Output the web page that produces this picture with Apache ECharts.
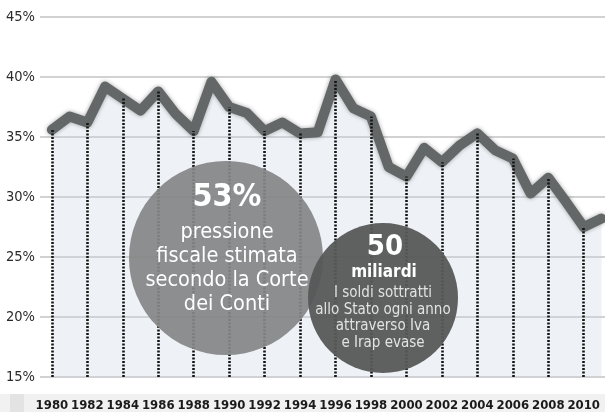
<!DOCTYPE html>
<html>
<head>
<meta charset="utf-8">
<script src="https://cdn.jsdelivr.net/npm/echarts@6/dist/echarts.min.js"></script>
<style>
html,body{margin:0;padding:0;background:#fff;}
#c{width:605px;height:412px;}
</style>
</head>
<body>
<div id="c"></div>
<script>
const years = [1980,1981,1982,1983,1984,1985,1986,1987,1988,1989,1990,1991,1992,1993,1994,1995,1996,1997,1998,1999,2000,2001,2002,2003,2004,2005,2006,2007,2008,2009,2010,2011];
const pressione = [35.6,36.7,36.2,39.2,38.2,37.2,38.8,36.9,35.5,39.6,37.5,37.0,35.5,36.2,35.3,35.4,39.8,37.4,36.7,32.5,31.7,34.1,32.9,34.3,35.3,33.9,33.2,30.3,31.6,29.6,27.5,28.2];
const yearLabels = [1980,1982,1984,1986,1988,1990,1992,1994,1996,1998,2000,2002,2004,2006,2008,2010];
const yTicks = [15,20,25,30,35,40,45];

const COND = '"DejaVu Sans Condensed","Liberation Sans Narrow","Open Sans",sans-serif';

const seriesData = years.map((y,i)=>[y, pressione[i]]);
const dotted = yearLabels.map(y=>{
  const v = pressione[years.indexOf(y)];
  return [{coord:[y, yTicks[0]]},{coord:[y, v]}];
});

const chart = echarts.init(document.getElementById('c'), null, {renderer:'canvas'});
chart.setOption({
  animation:false,
  backgroundColor:'#fff',
  grid:{left:40, right:0, top:17, bottom:35},
  xAxis:{
    type:'value', min:1979.33, max:2011.2,
    axisLine:{show:false}, axisTick:{show:false}, splitLine:{show:false},
    axisLabel:{
      customValues: yearLabels,
      formatter: v=>String(v),
      color:'#1a1a1a', fontSize:13, fontWeight:'bold', fontFamily:COND,
      margin:22
    }
  },
  yAxis:{
    type:'value', min:15, max:45, interval:5,
    axisLine:{show:false}, axisTick:{show:false},
    splitLine:{lineStyle:{color:'#d2d2d2', width:2}},
    axisLabel:{formatter:'{value}%', color:'#2a2a2a', fontSize:14.5, fontFamily:COND, margin:5}
  },
  series:[
    {type:'line', data:seriesData, symbol:'none', z:1,
     lineStyle:{width:0}, areaStyle:{color:'rgba(200,212,224,0.45)', origin:'start'}},
    {type:'line', data:[], symbol:'none', z:2,
     markLine:{symbol:'none', silent:true, label:{show:false},
       lineStyle:{color:'#151515', width:2.6, type:[2,1.5]},
       data:dotted}},
    {type:'line', data:seriesData, symbol:'none', z:3,
     lineStyle:{width:10, color:'#636767', join:'round', cap:'round',
       shadowColor:'rgba(0,0,0,0.35)', shadowBlur:4}}
  ],
  graphic:[
    {type:'rect', z:-1, shape:{x:0,y:394,width:605,height:18}, style:{fill:'#f1f1f1'}},
    {type:'rect', z:-1, shape:{x:10,y:394,width:14,height:18}, style:{fill:'#e3e3e3'}},
    {type:'circle', z:100, shape:{cx:226, cy:258, r:97}, style:{fill:'rgba(132,134,134,0.93)'}},
    {type:'circle', z:101, shape:{cx:383, cy:298, r:75}, style:{fill:'rgba(86,88,88,0.95)'}},
    {type:'text', z:110, x:227, y:198, style:{text:'53%', fill:'#fff', font:'bold 32px '+COND, textAlign:'center', textVerticalAlign:'middle'}},
    {type:'text', z:110, x:227, y:232, style:{text:'pressione', fill:'#fff', font:'21.5px '+COND, textAlign:'center', textVerticalAlign:'middle'}},
    {type:'text', z:110, x:227, y:256, style:{text:'fiscale stimata', fill:'#fff', font:'21.5px '+COND, textAlign:'center', textVerticalAlign:'middle'}},
    {type:'text', z:110, x:227, y:280, style:{text:'secondo la Corte', fill:'#fff', font:'21.5px '+COND, textAlign:'center', textVerticalAlign:'middle'}},
    {type:'text', z:110, x:227, y:304, style:{text:'dei Conti', fill:'#fff', font:'21.5px '+COND, textAlign:'center', textVerticalAlign:'middle'}},
    {type:'text', z:111, x:385, y:247, style:{text:'50', fill:'#fff', font:'bold 29px '+COND, textAlign:'center', textVerticalAlign:'middle'}},
    {type:'text', z:111, x:384, y:273, style:{text:'miliardi', fill:'#fff', font:'bold 17px '+COND, textAlign:'center', textVerticalAlign:'middle'}},
    {type:'text', z:111, x:383, y:293, style:{text:'I soldi sottratti', fill:'#e2e2e2', font:'15px '+COND, textAlign:'center', textVerticalAlign:'middle'}},
    {type:'text', z:111, x:383, y:310, style:{text:'allo Stato ogni anno', fill:'#e2e2e2', font:'15px '+COND, textAlign:'center', textVerticalAlign:'middle'}},
    {type:'text', z:111, x:383, y:326, style:{text:'attraverso Iva', fill:'#e2e2e2', font:'15px '+COND, textAlign:'center', textVerticalAlign:'middle'}},
    {type:'text', z:111, x:383, y:343, style:{text:'e Irap evase', fill:'#e2e2e2', font:'15px '+COND, textAlign:'center', textVerticalAlign:'middle'}}
  ]
});
</script>
</body>
</html>
